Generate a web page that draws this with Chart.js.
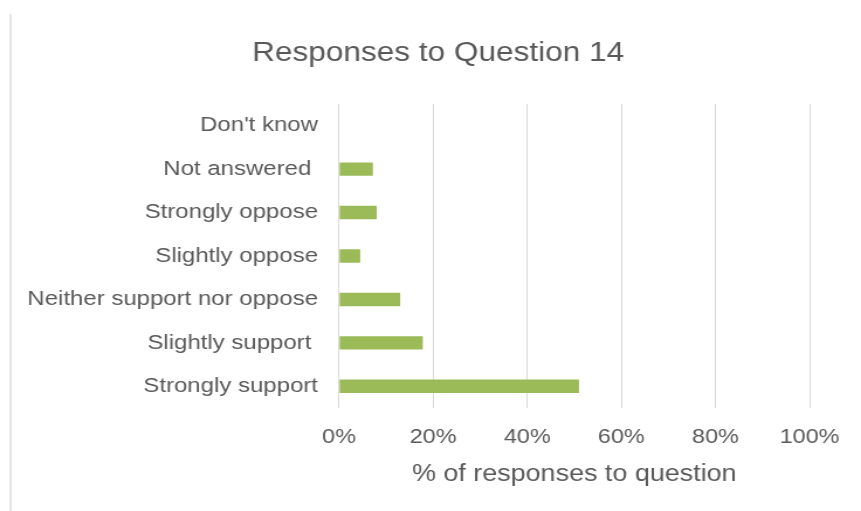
<!DOCTYPE html>
<html>
<head>
<meta charset="utf-8">
<title>Responses to Question 14</title>
<script src="https://cdn.jsdelivr.net/npm/chart.js@4/dist/chart.umd.min.js"></script>
<style>
  html, body { margin: 0; padding: 0; background: #ffffff; overflow: hidden; }
  /* the chart is laid out on a narrower canvas and widened to the full page */
  #wrap { position: absolute; left: 0; top: 0; width: 736px; height: 511px;
          transform: scaleX(1.16984); transform-origin: 0 0; }
</style>
</head>
<body>
<div id="wrap"><canvas id="c" width="736" height="511"></canvas></div>
<script>
// Answer categories, listed top to bottom
const categories = [
  "Don't know",
  "Not answered ",
  "Strongly oppose",
  "Slightly oppose",
  "Neither support nor oppose",
  "Slightly support ",
  "Strongly support"
];

// Share of responses (%) for each category
const responseShare = [0, 7.2, 8.0, 4.5, 13.0, 17.8, 51.0];

// Percentage axis
const axisMin = 0;
const axisMax = 100;
const axisStep = 20;

const chartTitle = 'Responses to Question 14';
const xAxisTitle = '% of responses to question';

const textColor = '#595959';
const fontFamily = '"Liberation Sans", Arial, sans-serif';

// chart heading, centred over the whole chart frame, plus the frame's left edge
const frameDecor = {
  id: 'frameDecor',
  afterDraw(chart) {
    const ctx = chart.ctx;
    ctx.save();
    ctx.fillStyle = textColor;
    ctx.font = '27px ' + fontFamily;
    ctx.textAlign = 'center';
    ctx.textBaseline = 'alphabetic';
    ctx.fillText(chartTitle, 374.5, 61);

    ctx.strokeStyle = '#c8c8c8';
    ctx.lineWidth = 1;
    ctx.beginPath();
    ctx.moveTo(9, 14);
    ctx.lineTo(9, 511);
    ctx.stroke();
    ctx.restore();
  }
};

new Chart(document.getElementById('c'), {
  type: 'bar',
  data: {
    labels: categories,
    datasets: [{
      data: responseShare,
      backgroundColor: '#9BBB59',
      borderWidth: 0,
      categoryPercentage: 1.0,
      barPercentage: 0.31
    }]
  },
  options: {
    indexAxis: 'y',
    responsive: false,
    animation: false,
    devicePixelRatio: 1,
    layout: { padding: { left: 0, right: 44, top: 104, bottom: 0 } },
    plugins: {
      legend: { display: false },
      tooltip: { enabled: false },
      title: { display: false }
    },
    scales: {
      x: {
        min: axisMin,
        max: axisMax,
        border: { display: false },
        grid: { color: '#d9d9d9', lineWidth: 1, drawTicks: false },
        ticks: {
          stepSize: axisStep,
          padding: 17,
          color: textColor,
          font: { family: fontFamily, size: 20 },
          callback: (v) => v + '%'
        },
        title: {
          display: true,
          text: xAxisTitle,
          color: textColor,
          font: { family: fontFamily, size: 23, lineHeight: 1.2 },
          padding: { top: 0, bottom: 23 }
        },
        afterFit(scale) { scale.height = 103; }
      },
      y: {
        border: { display: false },
        grid: { display: false, drawTicks: false },
        ticks: {
          padding: 18,
          color: textColor,
          font: { family: fontFamily, size: 20.5 },
          autoSkip: false
        },
        afterFit(scale) { scale.width = 289.8; }
      }
    }
  },
  plugins: [frameDecor]
});
</script>
</body>
</html>
